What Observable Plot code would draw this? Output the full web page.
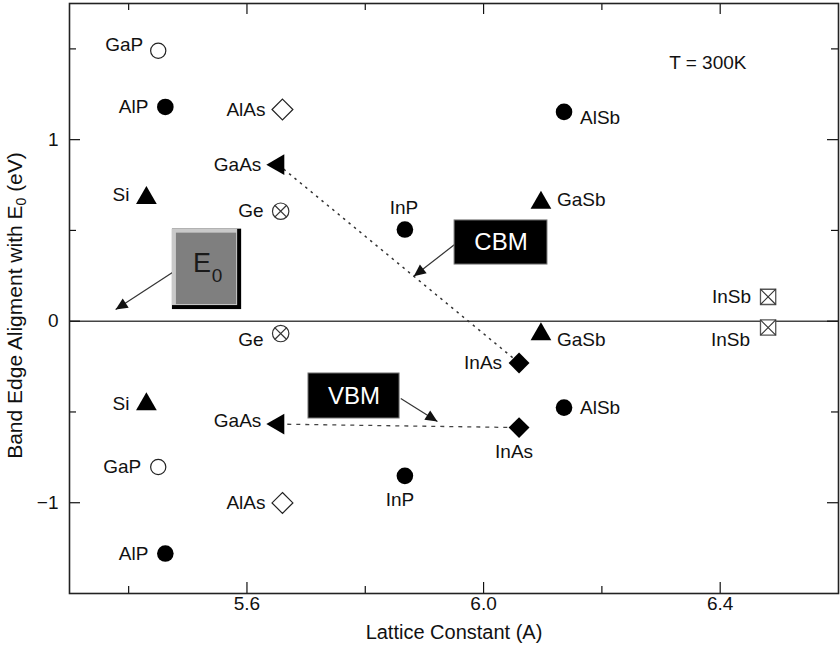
<!DOCTYPE html>
<html>
<head>
<meta charset="utf-8">
<script src="https://cdn.jsdelivr.net/npm/d3@7"></script>
<script src="https://cdn.jsdelivr.net/npm/@observablehq/plot@0.6"></script>
<style>
  html, body { margin: 0; padding: 0; background: #fff; }
  #chart { width: 840px; height: 652px; }
</style>
</head>
<body>
<div id="chart"></div>
<script>
// ---------------- data ----------------
const materials       = ["GaP", "AlP", "AlAs", "GaAs", "Si", "Ge", "InP", "AlSb", "GaSb", "InSb", "InAs"];
const latticeConstant = [5.450, 5.462, 5.660, 5.653, 5.430, 5.657, 5.867, 6.136, 6.097, 6.481, 6.060];
const cbm             = [1.490, 1.180, 1.166, 0.862, 0.679, 0.606, 0.505, 1.153, 0.652, 0.134, -0.230];
const vbm             = [-0.803, -1.280, -1.001, -0.567, -0.458, -0.068, -0.852, -0.476, -0.072, -0.035, -0.586];
const markerKind      = ["open-circle", "circle", "open-diamond", "left-triangle", "triangle",
                         "crossed-circle", "circle", "circle", "triangle", "boxed-x", "diamond"];
const cbmLabelPlace   = ["left-up", "left", "left", "left", "left-up3", "left", "above", "right-down", "right-up3", "left", "left"];
const vbmLabelPlace   = ["left", "left", "left", "left-up3", "left", "left-down", "below", "right", "right-down", "left-low", "below"];

const xTicks      = [5.6, 6.0, 6.4];
const xMinorTicks = [5.4, 5.8, 6.2];
const yTicks      = [-1, 0, 1];
const yMinorTicks = [-0.5, 0.5, 1.5];
const xDomain     = [5.3, 6.6];
const yDomain     = [-1.5, 1.75];

const xTitle = "Lattice Constant (A)";
const yTitle = "Band Edge Aligment with E\u2080 (eV)";
const note   = "T = 300K";

// annotation boxes and their arrows (data units)
const boxLabels = ["E0", "CBM", "VBM"];
const boxX1     = [5.474, 5.951, 5.704];
const boxX2     = [5.591, 6.108, 5.858];
const boxYTop   = [0.507, 0.555, -0.288];
const boxYBot   = [0.064, 0.312, -0.536];
const arrowX1   = [5.474, 5.951, 5.860];
const arrowY1   = [0.268, 0.422, -0.426];
const arrowX2   = [5.378, 5.882, 5.922];
const arrowY2   = [0.064, 0.248, -0.553];

// ---------------- layout ----------------
const width = 840, height = 652;
const marginLeft = 69, marginRight = 2, marginTop = 3, marginBottom = 59;
const frameW = width - marginLeft - marginRight;
const frameH = height - marginTop - marginBottom;
const font = 19;

// pixel scales identical to Plot's (used only to orient arrowheads)
const xs = d3.scaleLinear(xDomain, [marginLeft, width - marginRight]);
const ys = d3.scaleLinear(yDomain, [height - marginBottom, marginTop]);

const points = materials.flatMap((m, i) => [
  {name: m, x: latticeConstant[i], y: cbm[i], kind: markerKind[i], place: cbmLabelPlace[i]},
  {name: m, x: latticeConstant[i], y: vbm[i], kind: markerKind[i], place: vbmLabelPlace[i]}
]);
const byKind = (k) => points.filter((d) => d.kind === k);

const boxes = boxLabels.map((l, i) => ({label: l, x1: boxX1[i], x2: boxX2[i], y1: boxYTop[i], y2: boxYBot[i],
  cx: (boxX1[i] + boxX2[i]) / 2, cy: (boxYTop[i] + boxYBot[i]) / 2}));
const arrows = boxLabels.map((l, i) => {
  const dx = xs(arrowX2[i]) - xs(arrowX1[i]);
  const dy = ys(arrowY2[i]) - ys(arrowY1[i]);
  return {x1: arrowX1[i], y1: arrowY1[i], x2: arrowX2[i], y2: arrowY2[i],
          angle: Math.atan2(dx, -dy) * 180 / Math.PI};
});

const iGaAs = materials.indexOf("GaAs"), iInAs = materials.indexOf("InAs");
const cbmLink = [{x1: latticeConstant[iGaAs], y1: cbm[iGaAs], x2: latticeConstant[iInAs], y2: cbm[iInAs]}];
const vbmLink = [{x1: latticeConstant[iGaAs], y1: vbm[iGaAs], x2: latticeConstant[iInAs], y2: vbm[iInAs]}];

// arrowhead symbol: tip at origin, pointing up
const arrowHead = {
  draw(ctx) { const l = 12, w = 5.5; ctx.moveTo(0, 0); ctx.lineTo(w, l); ctx.lineTo(-w, l); ctx.closePath(); }
};

const placeStyle = {
  "left":       {dx: -17, dy: 0,   textAnchor: "end"},
  "left-up":    {dx: -15, dy: -6,  textAnchor: "end"},
  "left-up3":   {dx: -17, dy: -3,  textAnchor: "end"},
  "left-down":  {dx: -17, dy: 6,   textAnchor: "end"},
  "left-low":   {dx: -18, dy: 12,  textAnchor: "end"},
  "right":      {dx: 16,  dy: 0,   textAnchor: "start"},
  "right-up3":  {dx: 16,  dy: -3,  textAnchor: "start"},
  "right-down": {dx: 16,  dy: 6,   textAnchor: "start"},
  "above":      {dx: -1,  dy: -22, textAnchor: "middle"},
  "below":      {dx: -5,  dy: 24,  textAnchor: "middle"}
};

const ink = "#111";

const chart = Plot.plot({
  width, height, marginLeft, marginRight, marginTop, marginBottom,
  x: {domain: xDomain, axis: null},
  y: {domain: yDomain, axis: null},
  style: {fontFamily: "'Liberation Sans', Arial, Helvetica, sans-serif", fontSize: font + "px", background: "#fff", color: ink},
  marks: [
    // zero reference line
    Plot.ruleY([0], {stroke: "#444", strokeWidth: 1.5}),
    // inward ticks on all four sides
    Plot.ruleX(xTicks, {insetBottom: frameH - 11, stroke: ink, strokeWidth: 1.2}),
    Plot.ruleX(xTicks, {insetTop: frameH - 11, stroke: ink, strokeWidth: 1.2}),
    Plot.ruleX(xMinorTicks, {insetBottom: frameH - 7, stroke: ink, strokeWidth: 1.2}),
    Plot.ruleX(xMinorTicks, {insetTop: frameH - 7, stroke: ink, strokeWidth: 1.2}),
    Plot.ruleY(yTicks, {insetRight: frameW - 11, stroke: ink, strokeWidth: 1.2}),
    Plot.ruleY(yTicks, {insetLeft: frameW - 11, stroke: ink, strokeWidth: 1.2}),
    Plot.ruleY(yMinorTicks, {insetRight: frameW - 7, stroke: ink, strokeWidth: 1.2}),
    Plot.ruleY(yMinorTicks, {insetLeft: frameW - 7, stroke: ink, strokeWidth: 1.2}),
    Plot.frame({stroke: "#222", strokeWidth: 1.6}),
    // tick labels
    Plot.text(xTicks, {x: (d) => d, frameAnchor: "bottom", dy: 16, text: d3.format(".1f"), fill: ink}),
    Plot.text(yTicks, {y: (d) => d, frameAnchor: "left", dx: -11, textAnchor: "end", text: d3.format("d"), fill: ink}),
    // axis titles
    Plot.text([xTitle], {frameAnchor: "bottom", dy: 45, textAnchor: "middle", fontSize: 20, text: (d) => d, fill: ink}),
    Plot.text([yTitle], {frameAnchor: "left", dx: -54, dy: 7, rotate: -90, textAnchor: "middle", fontSize: 21, text: (d) => d, fill: ink}),
    // note
    Plot.text([note], {frameAnchor: "top-right", dx: -92, dy: 52, textAnchor: "end", text: (d) => d, fill: ink}),
    // connecting lines GaAs -> InAs
    Plot.link(cbmLink, {x1: "x1", y1: "y1", x2: "x2", y2: "y2", stroke: "#333", strokeWidth: 1.5, strokeDasharray: "2.5,4.5"}),
    Plot.link(vbmLink, {x1: "x1", y1: "y1", x2: "x2", y2: "y2", stroke: "#444", strokeWidth: 1.3, strokeDasharray: "4,5"}),
    // annotation arrows
    Plot.link(arrows, {x1: "x1", y1: "y1", x2: "x2", y2: "y2", stroke: "#333", strokeWidth: 1.2}),
    Plot.dot(arrows, {x: "x2", y: "y2", symbol: arrowHead, rotate: "angle", fill: "#111", r: 1}),
    // E0 bevelled box
    Plot.rect(boxes.filter((d) => d.label === "E0"), {x1: "x1", x2: "x2", y1: "y1", y2: "y2", fill: "#000"}),
    Plot.rect(boxes.filter((d) => d.label === "E0"), {x1: "x1", x2: "x2", y1: "y1", y2: "y2", fill: "#c9c9c9", insetRight: 4, insetBottom: 4}),
    Plot.rect(boxes.filter((d) => d.label === "E0"), {x1: "x1", x2: "x2", y1: "y1", y2: "y2", fill: "#7f7f7f", insetLeft: 4, insetTop: 4, insetRight: 5, insetBottom: 5}),
    Plot.text(boxes.filter((d) => d.label === "E0"), {x: "cx", y: "cy", text: () => "E", fontSize: 27, dx: -5, dy: -6, fill: "#1a1a1a"}),
    Plot.text(boxes.filter((d) => d.label === "E0"), {x: "cx", y: "cy", text: () => "0", fontSize: 19, dx: 10, dy: 7, fill: "#1a1a1a"}),
    // CBM / VBM black boxes
    Plot.rect(boxes.filter((d) => d.label !== "E0"), {x1: "x1", x2: "x2", y1: "y1", y2: "y2", fill: "#000", stroke: "#777", strokeWidth: 1}),
    Plot.text(boxes.filter((d) => d.label !== "E0"), {x: "cx", y: "cy", text: "label", fontSize: 24, fill: "#fff"}),
    // markers
    Plot.dot(byKind("circle"), {x: "x", y: "y", r: 8.3, fill: "#000"}),
    Plot.dot(byKind("open-circle"), {x: "x", y: "y", r: 7.6, fill: "#fff", stroke: "#222", strokeWidth: 1.2}),
    Plot.dot(byKind("triangle"), {x: "x", y: "y", symbol: "triangle", r: 7.7, fill: "#000"}),
    Plot.dot(byKind("left-triangle"), {x: "x", y: "y", symbol: "triangle", r: 7.7, rotate: -90, fill: "#000"}),
    Plot.dot(byKind("diamond"), {x: "x", y: "y", symbol: "diamond2", r: 9.4, fill: "#000"}),
    Plot.dot(byKind("open-diamond"), {x: "x", y: "y", symbol: "diamond2", r: 9.4, fill: "#fff", stroke: "#222", strokeWidth: 1.2}),
    Plot.dot(byKind("crossed-circle"), {x: "x", y: "y", r: 8.2, fill: "#fff", stroke: "#333", strokeWidth: 1.2}),
    Plot.dot(byKind("crossed-circle"), {x: "x", y: "y", symbol: "times", r: 5.5, stroke: "#333", strokeWidth: 1.2}),
    Plot.dot(byKind("boxed-x"), {x: "x", y: "y", symbol: "square", r: 8.6, fill: "#fff", stroke: "#555", strokeWidth: 1.3}),
    Plot.dot(byKind("boxed-x"), {x: "x", y: "y", symbol: "times", r: 7.0, stroke: "#333", strokeWidth: 1.1}),
    // point labels
    ...Object.entries(placeStyle).map(([p, s]) =>
      Plot.text(points.filter((d) => d.place === p), {x: "x", y: "y", text: "name", fill: ink, ...s}))
  ]
});

// subscript for the E0 in the y-axis title
const ns = "http://www.w3.org/2000/svg";
chart.querySelectorAll("text").forEach((t) => {
  const s = t.textContent;
  if (!s.includes("\u2080")) return;
  const [a, b] = s.split("\u2080");
  t.textContent = "";
  t.append(a);
  const sub = document.createElementNS(ns, "tspan");
  sub.setAttribute("dy", "4");
  sub.setAttribute("font-size", "14");
  sub.textContent = "0";
  const rest = document.createElementNS(ns, "tspan");
  rest.setAttribute("dy", "-4");
  rest.textContent = b;
  t.append(sub, rest);
});

document.getElementById("chart").append(chart);
</script>
</body>
</html>
